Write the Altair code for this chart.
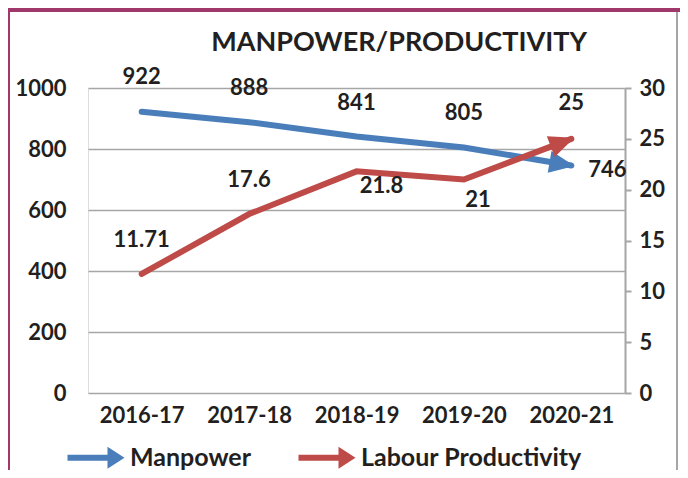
import math
import altair as alt
import pandas as pd

years = ["2016-17", "2017-18", "2018-19", "2019-20", "2020-21"]
manpower = [922, 888, 841, 805, 746]
productivity = [11.71, 17.6, 21.8, 21, 25]
series_names = ["Manpower", "Labour Productivity"]
colors = ["#4a7ebb", "#be4b48"]
title_text = "MANPOWER/PRODUCTIVITY"

W, H = 537, 305
MP_MAX, LP_MAX = 1000, 30
FONT = "Lato"
TXT = "#231f20"
GRID = "#a6a6a6"

# label offsets (dx, dy) per point
mp_off = [(0, -35), (0, -34), (0, -33), (0, -34), (36, 5)]
lp_off = [(0, -34), (0, -34), (25, 15), (14, 20), (0, -36)]

def arrow_angle(vals, vmax):
    step = W / len(vals)
    dy = -(vals[-1] - vals[-2]) / vmax * H
    return math.degrees(math.atan2(dy, step)) % 360

mp = pd.DataFrame({"year": years, "value": manpower, "series": series_names[0]})
lp = pd.DataFrame({"year": years, "value": productivity, "series": series_names[1]})
mp["ang"] = arrow_angle(manpower, MP_MAX)
lp["ang"] = arrow_angle(productivity, LP_MAX)
mp["lab"] = [str(v) for v in manpower]
lp["lab"] = [str(v) for v in productivity]

x_enc = alt.X("year:N", sort=years, scale=alt.Scale(type="point", padding=0.5),
              axis=alt.Axis(title=None, labelAngle=0, ticks=False, domain=False, grid=False,
                            labelPadding=12, labelFont=FONT, labelFontSize=22,
                            labelFontWeight="bold", labelColor=TXT))
color_enc = alt.Color("series:N", scale=alt.Scale(domain=series_names, range=colors),
                      legend=alt.Legend(title=None, orient="none", direction="horizontal",
                                        legendX=-1, legendY=357, padding=0,
                                        symbolType="M-3.2,-0.3L0.8,-0.3L0.8,-1.1L2.5,0L0.8,1.1L0.8,0.3L-3.2,0.3Z",
                                        symbolSize=400, symbolStrokeWidth=0, symbolOpacity=1,
                                        labelOffset=18, columnPadding=47, labelLimit=400,
                                        labelFont=FONT, labelFontSize=25, labelFontWeight="bold",
                                        labelColor=TXT))

ARROW = "M0.15,0L-1,-0.5L-1,0.5Z"

def series_layer(df, col, y_scale, y_axis, offs):
    y = alt.Y("value:Q", scale=y_scale, axis=y_axis)
    base = alt.Chart(df)
    line = base.mark_line(color=col, strokeWidth=6, strokeCap="round", strokeJoin="miter").encode(
        x=x_enc, y=y)
    head = base.transform_filter(alt.datum.year == years[-1]).mark_point(
        shape=ARROW, filled=True, size=1936, opacity=1, strokeWidth=0).encode(
        x=x_enc, y=y, color=color_enc, angle=alt.Angle("ang:Q", scale=None))
    texts = []
    for yr, (dx, dy) in zip(years, offs):
        texts.append(base.transform_filter(alt.datum.year == yr).mark_text(
            dx=dx, dy=dy, font=FONT, fontSize=22, fontWeight="bold", color=TXT,
            align="center", baseline="middle").encode(x=x_enc, y=y, text="lab:N"))
    return alt.layer(line, head, *texts)

mp_layer = series_layer(
    mp, colors[0],
    alt.Scale(domain=[0, MP_MAX], nice=False),
    alt.Axis(title=None, orient="left", values=list(range(0, 1001, 200)), format="d", grid=True,
             gridColor=GRID, gridWidth=1.5, domain=False, ticks=False, labelPadding=22,
             labelFont=FONT, labelFontSize=22, labelFontWeight="bold", labelColor=TXT),
    mp_off)
lp_layer = series_layer(
    lp, colors[1],
    alt.Scale(domain=[0, LP_MAX], nice=False),
    alt.Axis(title=None, orient="right", values=list(range(0, 31, 5)), grid=False,
             domain=True, domainColor=GRID, domainWidth=2, ticks=True, tickSize=6,
             tickColor=GRID, tickWidth=2, labelPadding=8,
             labelFont=FONT, labelFontSize=22, labelFontWeight="bold", labelColor=TXT),
    lp_off)

deco_df = pd.DataFrame({"t": [title_text]})
left_bar = alt.Chart(deco_df).mark_rule(color="#a0386a", strokeWidth=4).encode(
    x=alt.value(-80), y=alt.value(-82), y2=alt.value(390))
top_bar = alt.Chart(deco_df).mark_rule(color="#a0386a", strokeWidth=5).encode(
    x=alt.value(-82), x2=alt.value(600), y=alt.value(-78.5))
right_bar = alt.Chart(deco_df).mark_rule(color=GRID, strokeWidth=2).encode(
    x=alt.value(589), y=alt.value(-76), y2=alt.value(390))
title = alt.Chart(deco_df).mark_text(
    font=FONT, fontSize=27, fontWeight="bold", color=TXT, align="center",
    baseline="alphabetic").encode(x=alt.value(311), y=alt.value(-37), text="t:N")

chart = alt.layer(mp_layer, lp_layer, left_bar, top_bar, right_bar, title).resolve_scale(
    y="independent"
).properties(
    width=W, height=H,
    autosize=alt.AutoSizeParams(type="none"),
    padding={"left": 80, "top": 80, "right": 55, "bottom": 77},
).configure_view(stroke=GRID, strokeWidth=2).configure(background="white")

chart.save("out.html", embed_options={"renderer": "svg", "actions": False})
